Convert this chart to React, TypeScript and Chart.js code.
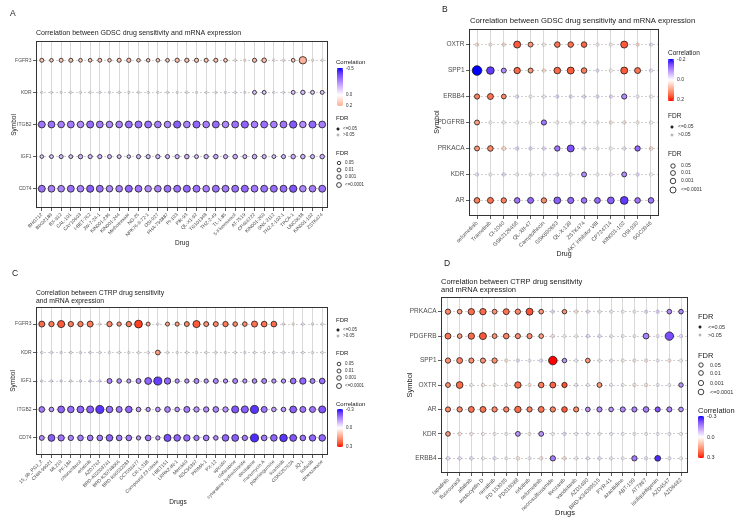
import React, { useEffect, useRef } from "react";
import { Chart, registerables } from "chart.js";
Chart.register(...registerables);

const FONT = "'Liberation Sans', Arial, Helvetica, sans-serif";

// ---------------- Panel A: GDSC ----------------
const drugsA = ["BHG712", "BIX02189", "BX-912", "CAL-101", "CAY10603", "I-BET-762", "JW-7-24-1", "KIN001-236", "KIN001-244", "Methotrexate", "NG-25", "NPK76-II-72-1", "OSI-027", "PHA-793887", "PI-103", "PIK-93", "QL-X1-92", "TG101348", "THZ-2-49", "TL-1-85", "5-Fluorouracil", "AT-7519", "CP466722", "KIN001-260", "SNX-2112", "THZ-2-102-1", "TPCA-1", "UNC0638", "KIN001-102", "ZSTK474"];
const genesA = ["FGFR3", "KDR", "ITGB2", "IGF1", "CD74"];
const corA_FGFR3 = [0.16, 0.14, 0.16, 0.16, 0.15, 0.15, 0.16, 0.14, 0.16, 0.17, 0.14, 0.14, 0.14, 0.15, 0.17, 0.17, 0.16, 0.16, 0.16, 0.15, 0.07, 0.07, 0.17, 0.18, 0.07, 0.07, 0.15, 0.2, 0.07, 0.07];
const nlfA_FGFR3 = [2.4, 1.6, 2.4, 2.4, 1.8, 1.8, 2.2, 1.6, 2.4, 2.8, 1.5, 1.5, 1.6, 1.8, 2.8, 2.8, 2.6, 2.4, 2.4, 1.8, 0.4, 0.4, 2.6, 3.6, 0.4, 0.4, 1.8, 13, 0.4, 0.4];
const corA_KDR = [-0.06, -0.06, -0.06, -0.06, -0.06, -0.06, -0.06, -0.06, -0.06, -0.06, -0.06, -0.06, -0.06, -0.06, -0.06, -0.06, -0.06, -0.06, -0.06, -0.06, -0.06, -0.06, -0.13, -0.13, -0.06, -0.06, -0.13, -0.15, -0.13, -0.13];
const nlfA_KDR = [0.3, 0.3, 0.3, 0.3, 0.3, 0.3, 0.3, 0.3, 0.3, 0.3, 0.3, 0.3, 0.3, 0.3, 0.3, 0.3, 0.3, 0.3, 0.3, 0.3, 0.3, 0.3, 2.2, 2.2, 0.3, 0.3, 2.2, 3, 2.2, 2.2];
const corA_ITGB2 = [-0.3, -0.31, -0.28, -0.29, -0.25, -0.32, -0.29, -0.26, -0.28, -0.31, -0.31, -0.31, -0.28, -0.26, -0.35, -0.27, -0.33, -0.28, -0.32, -0.26, -0.31, -0.34, -0.28, -0.31, -0.28, -0.3, -0.36, -0.25, -0.33, -0.28];
const nlfA_ITGB2 = [11, 11, 10, 11, 9.5, 11.5, 10.5, 9.5, 10, 11, 11, 11, 10, 9.5, 12, 10, 11.5, 10, 11, 9.5, 11, 12, 10, 11, 10, 11, 12.5, 9.5, 11.5, 10.5];
const corA_IGF1 = [-0.12, -0.13, -0.15, -0.13, -0.17, -0.15, -0.16, -0.14, -0.13, -0.12, -0.15, -0.15, -0.16, -0.16, -0.16, -0.17, -0.14, -0.16, -0.18, -0.16, -0.17, -0.15, -0.17, -0.16, -0.13, -0.16, -0.18, -0.17, -0.16, -0.18];
const nlfA_IGF1 = [1.7, 2, 2.4, 2, 3.2, 2.6, 2.8, 2.4, 2, 1.5, 2.6, 2.6, 2.8, 2.6, 2.8, 3.4, 2.2, 3, 3.4, 2.6, 3.4, 2.4, 3.4, 2.6, 2, 2.6, 3.4, 3.4, 2.6, 3.4];
const corA_CD74 = [-0.31, -0.28, -0.27, -0.31, -0.27, -0.35, -0.31, -0.26, -0.28, -0.33, -0.3, -0.25, -0.28, -0.31, -0.31, -0.33, -0.31, -0.28, -0.31, -0.29, -0.31, -0.33, -0.29, -0.31, -0.32, -0.32, -0.37, -0.26, -0.28, -0.31];
const nlfA_CD74 = [11, 10.5, 10, 11, 10, 12, 11, 9.5, 10, 11.5, 10.5, 9.5, 10, 11, 11, 11.5, 11, 10, 11, 10.5, 11, 11.5, 10.5, 11, 11, 11, 12.5, 9.5, 10, 11];
const breaksA = [-0.5, 0, 0.2];

// ---------------- Panel B: GDSC ----------------
const drugsB = ["selumetinib", "Trametinib", "CI-1040", "GSK2126458", "QL-XII-47", "Camptothecin", "GSK690693", "QL-X-138", "ZSTK474", "AKT inhibitor VIII", "CP724714", "KIN001-102", "OSI-930", "SGC0946"];
const genesB = ["OXTR", "SPP1", "ERBB4", "PDGFRB", "PRKACA", "KDR", "AR"];
const corB_OXTR = [0.07, 0.05, 0.07, 0.16, 0.11, 0.02, 0.14, 0.14, 0.15, 0.03, 0.03, 0.16, 0.07, -0.06];
const nlfB_OXTR = [0.4, 0.36, 0.4, 6.4, 2.1, 0.36, 3.2, 3.2, 3.2, 0.36, 0.36, 6.4, 0.4, 0.36];
const corB_SPP1 = [-0.2, -0.17, -0.1, 0.15, 0.11, 0.07, 0.15, 0.16, 0.13, -0.05, 0.01, 0.16, 0.14, -0.05];
const nlfB_SPP1 = [15.5, 8.2, 2.1, 4.9, 2.1, 0.4, 5.4, 6.4, 3.2, 0.36, 0.36, 6.4, 4, 0.36];
const corB_ERBB4 = [0.13, 0.14, 0.12, -0.06, -0.02, -0.02, -0.07, -0.07, -0.06, -0.06, -0.07, -0.1, -0.02, -0.02];
const nlfB_ERBB4 = [2.5, 4, 1.8, 0.4, 0.36, 0.36, 0.4, 0.4, 0.4, 0.4, 0.4, 2.5, 0.36, 0.36];
const corB_PDGFRB = [0.1, 0.01, 0.01, 0.01, 0.01, -0.12, 0.02, -0.02, 0.02, 0.02, 0.05, 0.05, 0.02, 0.01];
const nlfB_PDGFRB = [2.1, 0.36, 0.36, 0.36, 0.36, 2.5, 0.36, 0.36, 0.36, 0.36, 0.36, 0.36, 0.36, 0.36];
const corB_PRKACA = [0.11, 0.12, 0.08, -0.07, -0.07, -0.06, -0.12, -0.15, -0.06, 0.02, 0.02, -0.04, -0.13, 0.08];
const nlfB_PRKACA = [2.1, 3.2, 1.1, 0.5, 0.5, 0.4, 2.8, 6.4, 0.4, 0.36, 0.36, 0.36, 2.8, 0.6];
const corB_KDR = [-0.05, -0.02, -0.06, -0.02, -0.02, -0.01, -0.02, -0.01, -0.1, -0.01, -0.02, -0.1, -0.06, -0.01];
const nlfB_KDR = [0.4, 0.36, 0.5, 0.36, 0.36, 0.36, 0.36, 0.36, 2.1, 0.36, 0.36, 2.1, 0.5, 0.36];
const corB_AR = [0.13, 0.14, 0.13, -0.12, -0.13, 0.12, -0.14, -0.13, -0.12, -0.13, -0.14, -0.17, -0.12, -0.12];
const nlfB_AR = [3.2, 4, 2.8, 3.2, 4, 2.8, 5.9, 4.4, 3.2, 3.6, 5.9, 8.8, 3.2, 3.2];
const breaksB = [-0.2, 0, 0.2];

// ---------------- Panel C: CTRP ----------------
const drugsC = ["15_9b_PGJ_2", "CHIR-99021", "ML210", "PF-184", "chlorambucil", "erlotinib", "AZD7762", "BRD-A02303741", "BRD-K30748066", "BRD-K66532283", "CCT036477", "CR-1-31B", "Compound 23 citrate", "I-BET151", "LRRK2-IN-1", "Merck60", "NSC95397", "PRIMA-1", "PX-12", "apicidin", "clofarabine", "cytarabine hydrochloride", "decitabine", "manumycin A", "piperlongumine", "tivantinib", "GSK525762A", "JQ-1", "linifanib", "dexrazoxane"];
const genesC = ["FGFR3", "KDR", "IGF1", "ITGB2", "CD74"];
const corC_FGFR3 = [0.22, 0.2, 0.24, 0.2, 0.2, 0.2, 0.07, 0.18, 0.16, 0.2, 0.27, 0.14, -0.05, 0.14, 0.15, 0.18, 0.24, 0.17, 0.18, 0.2, 0.18, 0.18, 0.21, 0.21, 0.22, 0.07, 0.05, -0.05, -0.05, 0.05];
const nlfC_FGFR3 = [7, 5, 11, 5, 5, 7, 0.3, 5, 2.5, 5, 14, 2, 0.3, 2, 2.3, 4, 11, 4, 4, 5, 3.2, 3.2, 7, 6, 6, 0.3, 0.3, 0.3, 0.3, 0.3];
const corC_KDR = [-0.06, -0.04, -0.06, -0.06, -0.06, -0.07, -0.03, -0.03, -0.03, -0.03, -0.03, -0.03, 0.15, -0.03, -0.03, -0.03, -0.03, -0.03, 0.05, -0.03, -0.03, -0.04, -0.03, -0.03, -0.03, -0.03, -0.03, -0.04, 0.04, -0.03];
const nlfC_KDR = [0.3, 0.3, 0.3, 0.3, 0.3, 0.3, 0.3, 0.3, 0.3, 0.3, 0.3, 0.3, 3.6, 0.3, 0.3, 0.3, 0.3, 0.3, 0.3, 0.3, 0.3, 0.3, 0.3, 0.3, 0.3, 0.3, 0.3, 0.3, 0.3, 0.3];
const corC_IGF1 = [-0.07, -0.07, -0.07, -0.07, -0.07, -0.08, -0.08, -0.16, -0.15, -0.13, -0.16, -0.2, -0.25, -0.2, -0.14, -0.14, -0.16, -0.14, -0.16, -0.14, -0.16, -0.14, -0.15, -0.16, -0.14, -0.14, -0.19, -0.2, -0.17, -0.19];
const nlfC_IGF1 = [0.3, 0.3, 0.3, 0.3, 0.3, 0.3, 0.3, 4, 3.2, 2.2, 4, 10, 15, 8.3, 2.5, 2.5, 4, 2.5, 4, 2.5, 4, 2.5, 3.2, 4, 2.5, 2.5, 6, 8.3, 4, 6];
const corC_ITGB2 = [-0.17, -0.14, -0.2, -0.19, -0.2, -0.21, -0.26, -0.19, -0.18, -0.2, -0.13, -0.13, -0.14, -0.16, -0.14, -0.17, -0.14, -0.15, -0.16, -0.14, -0.22, -0.21, -0.26, -0.18, -0.13, -0.14, -0.21, -0.18, -0.18, -0.22];
const nlfC_ITGB2 = [6, 3.2, 10, 9, 10, 11, 15, 9, 7, 9, 3.2, 2.5, 3.2, 6, 3.2, 7, 5, 5, 6, 5, 11, 11, 15, 7, 3.2, 3.2, 10, 7, 7, 11];
const corC_CD74 = [-0.15, -0.21, -0.18, -0.16, -0.17, -0.17, -0.17, -0.2, -0.17, -0.17, -0.14, -0.17, -0.13, -0.23, -0.2, -0.19, -0.17, -0.17, -0.15, -0.2, -0.21, -0.17, -0.27, -0.17, -0.2, -0.26, -0.22, -0.18, -0.2, -0.2];
const nlfC_CD74 = [4, 10, 8, 5, 6, 6, 6, 9, 6, 6, 2.5, 6, 2.5, 11, 9, 8.3, 5, 6, 3.2, 9, 10, 5, 15, 6, 9, 13, 10, 6, 8.3, 9];
const breaksC = [-0.3, 0, 0.3];

// ---------------- Panel D: CTRP ----------------
const drugsD = ["lapatinib", "fluorouracil", "afatinib", "austocystin D", "neratinib", "PD 153035", "PD318088", "erlotinib", "selumetinib", "necrosulfonamide", "tivozanib", "vandetanib", "AZD1480", "BRD-K34099515", "PYR-41", "azacitidine", "ABT-199", "AT7867", "isoliquiritigenin", "AZD4547", "AZD6482"];
const genesD = ["PRKACA", "PDGFRB", "SPP1", "OXTR", "AR", "KDR", "ERBB4"];
const corD_PRKACA = [0.18, 0.15, 0.22, 0.22, 0.17, 0.21, 0.18, 0.25, 0.16, -0.09, 0.17, 0.08, -0.08, -0.03, -0.03, -0.03, -0.03, -0.09, -0.11, -0.15, -0.16];
const nlfD_PRKACA = [3.2, 1.8, 6.6, 6.6, 2.2, 5, 3.2, 9, 1.8, 0.2, 1.5, 0.3, 0.15, 0.1, 0.1, 0.1, 0.1, 0.2, 0.3, 1.8, 1.8];
const corD_PDGFRB = [0.21, 0.15, 0.22, 0.24, 0.17, 0.19, 0.17, 0.17, 0.15, 0.08, 0.02, 0.02, -0.1, -0.08, -0.03, -0.04, -0.03, -0.16, -0.03, -0.23, -0.08];
const nlfD_PDGFRB = [5, 1.8, 6.6, 9, 2.2, 4, 2.8, 2.8, 1.8, 0.3, 0.1, 0.1, 0.3, 0.2, 0.1, 0.1, 0.1, 4.5, 0.1, 16, 0.2];
const corD_SPP1 = [0.17, 0.19, 0.17, 0.17, 0.17, 0.08, -0.08, -0.03, -0.09, 0.3, -0.14, -0.03, 0.16, -0.03, -0.03, 0.06, 0.07, 0.07, -0.03, 0.07, -0.03];
const nlfD_SPP1 = [3.2, 5, 2.8, 2.8, 3.2, 0.3, 0.2, 0.1, 0.3, 17, 1.5, 0.1, 1.8, 0.1, 0.1, 0.2, 0.2, 0.3, 0.1, 0.2, 0.1];
const corD_OXTR = [0.17, 0.22, 0.03, 0.07, 0.03, 0.03, 0.22, 0.08, 0.2, 0.23, 0.25, -0.06, -0.03, 0.16, -0.03, -0.03, 0.08, 0.08, -0.03, -0.03, -0.14];
const nlfD_OXTR = [2.2, 8, 0.1, 0.2, 0.1, 0.1, 6.6, 0.2, 4, 5, 3.2, 0.15, 0.1, 2.2, 0.1, 0.1, 0.3, 0.3, 0.1, 0.1, 1.5];
const corD_AR = [0.18, 0.18, 0.21, 0.21, 0.18, 0.19, 0.22, 0.19, 0.21, 0.19, 0.24, 0.18, -0.14, -0.15, -0.14, -0.15, -0.16, -0.17, -0.22, -0.16, -0.14];
const nlfD_AR = [2.8, 3.2, 5, 5, 3.2, 3.2, 6.6, 3.2, 5, 3.2, 4, 2.8, 1.8, 2.8, 1.8, 2.8, 2.8, 4, 2.8, 2.8, 1.8];
const corD_KDR = [0.16, 0.07, 0.04, 0.03, 0.03, 0.03, -0.14, 0.05, -0.14, 0.02, -0.09, -0.03, -0.03, -0.03, -0.03, -0.03, -0.03, -0.03, -0.03, -0.03, -0.04];
const nlfD_KDR = [1.8, 0.3, 0.15, 0.1, 0.1, 0.1, 2.2, 0.15, 2.2, 0.1, 0.3, 0.1, 0.1, 0.1, 0.1, 0.1, 0.1, 0.1, 0.1, 0.1, 0.1];
const corD_ERBB4 = [-0.08, -0.07, -0.07, -0.03, -0.07, -0.03, 0.07, -0.03, 0.08, -0.17, 0.09, -0.03, -0.07, -0.07, -0.03, -0.03, -0.17, -0.07, -0.27, -0.06, -0.03];
const nlfD_ERBB4 = [0.4, 0.3, 0.3, 0.1, 0.3, 0.1, 0.4, 0.1, 0.3, 3.2, 0.4, 0.1, 0.2, 0.3, 0.1, 0.1, 3.2, 0.3, 4.5, 0.2, 0.1];
const breaksD = [-0.3, 0, 0.3];

const sizeBreaks = [1.3, 2, 3, 4];
const sizeLabels = ["0.05", "0.01", "0.001", "<=0.0001"];

// ---------------- colour (Lab interpolation, like ggplot gradient2) ----------------
function toLin(c: number) { c /= 255; return c <= 0.04045 ? c / 12.92 : Math.pow((c + 0.055) / 1.055, 2.4); }
function toSrgb(c: number) { const v = c <= 0.0031308 ? 12.92 * c : 1.055 * Math.pow(c, 1 / 2.4) - 0.055; return Math.round(Math.max(0, Math.min(1, v)) * 255); }
function rgb2lab(rgb: number[]) {
  const R = toLin(rgb[0]), G = toLin(rgb[1]), B = toLin(rgb[2]);
  const X = (0.4124564 * R + 0.3575761 * G + 0.1804375 * B) / 0.95047;
  const Y = 0.2126729 * R + 0.7151522 * G + 0.072175 * B;
  const Z = (0.0193339 * R + 0.119192 * G + 0.9503041 * B) / 1.08883;
  const f = (t: number) => (t > 0.008856 ? Math.cbrt(t) : 7.787 * t + 16 / 116);
  const fx = f(X), fy = f(Y), fz = f(Z);
  return [116 * fy - 16, 500 * (fx - fy), 200 * (fy - fz)];
}
function lab2rgb(lab: number[]) {
  const fy = (lab[0] + 16) / 116, fx = fy + lab[1] / 500, fz = fy - lab[2] / 200;
  const inv = (t: number) => (t * t * t > 0.008856 ? t * t * t : (t - 16 / 116) / 7.787);
  const X = inv(fx) * 0.95047, Y = inv(fy), Z = inv(fz) * 1.08883;
  const R = 3.2404542 * X - 1.5371385 * Y - 0.4985314 * Z;
  const G = -0.969266 * X + 1.8760108 * Y + 0.041556 * Z;
  const B = 0.0556434 * X - 0.2040259 * Y + 1.0572252 * Z;
  return [toSrgb(R), toSrgb(G), toSrgb(B)];
}
const LAB_W = rgb2lab([255, 255, 255]);
const LAB_BLUE = rgb2lab([0, 0, 255]);
const LAB_RED = rgb2lab([255, 0, 0]);
function corColor(c: number, m: number, alpha: number) {
  const t = Math.min(1, Math.abs(c) / m);
  const end = c < 0 ? LAB_BLUE : LAB_RED;
  const lab = LAB_W.map((w, i) => w + (end[i] - w) * t);
  const [r, g, b] = lab2rgb(lab);
  return `rgba(${r},${g},${b},${alpha})`;
}

// ---------------- panel specs (layout only) ----------------
type Spec = any;
const SPECS: Spec[] = [
  {
    letter: "A", letterPos: [10, 14], title: ["Correlation between GDSC drug sensitivity and mRNA expression"], titlePos: [36, 33], titleSize: 7,
    xTitle: "Drug", xTitlePos: [182, 243], yTitlePos: [14, 125], axisTitleSize: 6.5,
    left: 0, top: 0, width: 368, height: 262, area: { l: 36, t: 41, r: 328, b: 208 },
    genes: genesA, drugs: drugsA,
    cor: [corA_FGFR3, corA_KDR, corA_ITGB2, corA_IGF1, corA_CD74],
    nlf: [nlfA_FGFR3, nlfA_KDR, nlfA_ITGB2, nlfA_IGF1, nlfA_CD74],
    corMax: 0.5, corLo: -0.52, corHi: 0.21, breaks: breaksA, rA: 0.78, rB: 0.81,
    xTick: 4.8, yTick: 5,
    legend: { x: 336, corTitleY: 62, barX: 337, barW: 6, barTop: 68, barBottom: 106, alphaTitleY: 118, alphaY: [129, 135], dotX: 338, dotLabelX: 343, sizeTitleY: 153, sizeY: [163, 170, 177, 185], circX: 339, sizeLabelX: 345, titleSize: 6, labelSize: 4.5 },
  },
  {
    letter: "B", letterPos: [442, 10], title: ["Correlation between GDSC drug sensitivity and mRNA expression"], titlePos: [470, 21], titleSize: 7.7,
    xTitle: "Drug", xTitlePos: [564, 254], yTitlePos: [437, 122], axisTitleSize: 7,
    left: 368, top: 0, width: 369, height: 262, area: { l: 469, t: 29, r: 659, b: 216 },
    genes: genesB, drugs: drugsB,
    cor: [corB_OXTR, corB_SPP1, corB_ERBB4, corB_PDGFRB, corB_PRKACA, corB_KDR, corB_AR],
    nlf: [nlfB_OXTR, nlfB_SPP1, nlfB_ERBB4, nlfB_PDGFRB, nlfB_PRKACA, nlfB_KDR, nlfB_AR],
    corMax: 0.2, corLo: -0.21, corHi: 0.21, breaks: breaksB, rA: 1.14, rB: 0.93,
    xTick: 5.5, yTick: 6.5,
    legend: { x: 668, corTitleY: 53, barX: 668, barW: 6, barTop: 59, barBottom: 101, alphaTitleY: 116, alphaY: [127, 135], dotX: 672, dotLabelX: 678, sizeTitleY: 154, sizeY: [166, 173, 181, 190], circX: 673, sizeLabelX: 681, titleSize: 6.5, labelSize: 5 },
  },
  {
    letter: "C", letterPos: [12, 274], title: ["Correlation between CTRP drug sensitivity", "and mRNA expression"], titlePos: [36, 293], titleSize: 6.8,
    xTitle: "Drugs", xTitlePos: [178, 502], yTitlePos: [13, 381], axisTitleSize: 6.5,
    left: 0, top: 262, width: 368, height: 262, area: { l: 36, t: 307, r: 328, b: 455 },
    genes: genesC, drugs: drugsC,
    cor: [corC_FGFR3, corC_KDR, corC_IGF1, corC_ITGB2, corC_CD74],
    nlf: [nlfC_FGFR3, nlfC_KDR, nlfC_IGF1, nlfC_ITGB2, nlfC_CD74],
    corMax: 0.3, corLo: -0.31, corHi: 0.31, breaks: breaksC, rA: 0.87, rB: 0.81,
    xTick: 4.8, yTick: 5,
    legend: { x: 336, alphaTitleY: 320, alphaY: [330, 336], dotX: 338, dotLabelX: 343, sizeTitleY: 353, sizeY: [364, 371, 378, 386], circX: 339, sizeLabelX: 345, corTitleY: 404, barX: 337, barW: 6, barTop: 409, barBottom: 447, titleSize: 6, labelSize: 4.5 },
  },
  {
    letter: "D", letterPos: [444, 264], title: ["Correlation between CTRP drug sensitivity", "and mRNA expression"], titlePos: [441, 282], titleSize: 7.5,
    xTitle: "Drugs", xTitlePos: [565, 513], yTitlePos: [410, 385], axisTitleSize: 7.5,
    left: 368, top: 250, width: 369, height: 274, area: { l: 441, t: 297, r: 688, b: 473 },
    genes: genesD, drugs: drugsD,
    cor: [corD_PRKACA, corD_PDGFRB, corD_SPP1, corD_OXTR, corD_AR, corD_KDR, corD_ERBB4],
    nlf: [nlfD_PRKACA, nlfD_PDGFRB, nlfD_SPP1, nlfD_OXTR, nlfD_AR, nlfD_KDR, nlfD_ERBB4],
    corMax: 0.3, corLo: -0.31, corHi: 0.31, breaks: breaksD, rA: 1.4, rB: 0.7,
    xTick: 5.5, yTick: 6.5,
    legend: { x: 698, alphaTitleY: 317, alphaY: [327, 335], dotX: 700, dotLabelX: 708, sizeTitleY: 356, sizeY: [365, 373, 383, 392], circX: 701, sizeLabelX: 710, corTitleY: 411, barX: 698, barW: 6, barTop: 416, barBottom: 458, titleSize: 7.5, labelSize: 5.5 },
  },
];

function fmt(b: number) { return b === 0 ? "0.0" : b.toFixed(1); }

function decorPlugin(s: Spec) {
  return {
    id: "decor" + s.letter,
    afterDraw(chart: any) {
      const ctx = chart.ctx as CanvasRenderingContext2D;
      const P = (x: number) => x - s.left;
      const Q = (y: number) => y - s.top;
      const a = chart.chartArea;
      ctx.save();
      // panel border
      ctx.strokeStyle = "#333";
      ctx.lineWidth = 1;
      ctx.strokeRect(Math.round(a.left) + 0.5, Math.round(a.top) + 0.5, Math.round(a.right - a.left) - 1, Math.round(a.bottom - a.top) - 1);
      const txt = (str: string, x: number, y: number, size: number, align: CanvasTextAlign = "left", color = "#1a1a1a") => {
        ctx.font = `${size}px ${FONT}`;
        ctx.fillStyle = color;
        ctx.textAlign = align;
        ctx.textBaseline = "middle";
        ctx.fillText(str, P(x), Q(y));
      };
      txt(s.letter, s.letterPos[0], s.letterPos[1], 8.5);
      s.title.forEach((line: string, i: number) => txt(line, s.titlePos[0], s.titlePos[1] + i * 8, s.titleSize));
      txt(s.xTitle, s.xTitlePos[0], s.xTitlePos[1], s.axisTitleSize, "center");
      ctx.save();
      ctx.translate(P(s.yTitlePos[0]), Q(s.yTitlePos[1]));
      ctx.rotate(-Math.PI / 2);
      ctx.font = `${s.axisTitleSize}px ${FONT}`;
      ctx.fillStyle = "#1a1a1a";
      ctx.textAlign = "center";
      ctx.textBaseline = "middle";
      ctx.fillText("Symbol", 0, 0);
      ctx.restore();

      const L = s.legend;
      // colour bar
      txt("Correlation", L.x, L.corTitleY, L.titleSize);
      const g = ctx.createLinearGradient(0, Q(L.barTop), 0, Q(L.barBottom));
      for (let i = 0; i <= 30; i++) {
        const t = i / 30;
        g.addColorStop(t, corColor(s.corLo + t * (s.corHi - s.corLo), s.corMax, 1));
      }
      ctx.fillStyle = g;
      ctx.fillRect(P(L.barX), Q(L.barTop), L.barW, L.barBottom - L.barTop);
      s.breaks.forEach((b: number) => {
        const y = L.barTop + ((b - s.corLo) / (s.corHi - s.corLo)) * (L.barBottom - L.barTop);
        ctx.strokeStyle = "#fff";
        ctx.lineWidth = 0.6;
        ctx.beginPath();
        ctx.moveTo(P(L.barX), Q(y)); ctx.lineTo(P(L.barX) + 1.3, Q(y));
        ctx.moveTo(P(L.barX + L.barW) - 1.3, Q(y)); ctx.lineTo(P(L.barX + L.barW), Q(y));
        ctx.stroke();
        txt(fmt(b), L.barX + L.barW + 3, y, L.labelSize, "left", "#333");
      });
      // significance legend
      txt("FDR", L.x, L.alphaTitleY, L.titleSize);
      [["<=0.05", 1], [">0.05", 0.25]].forEach(([lab, al]: any, i: number) => {
        ctx.beginPath();
        ctx.arc(P(L.dotX), Q(L.alphaY[i]), 1.2, 0, Math.PI * 2);
        ctx.fillStyle = `rgba(60,60,60,${al})`;
        ctx.fill();
        ctx.strokeStyle = `rgba(0,0,0,${al})`;
        ctx.lineWidth = 0.6;
        ctx.stroke();
        txt(lab, L.dotLabelX, L.alphaY[i], L.labelSize, "left", "#333");
      });
      // size legend
      txt("FDR", L.x, L.sizeTitleY, L.titleSize);
      sizeBreaks.forEach((v, i) => {
        ctx.beginPath();
        ctx.arc(P(L.circX), Q(L.sizeY[i]), s.rA + s.rB * Math.sqrt(v), 0, Math.PI * 2);
        ctx.strokeStyle = "#111";
        ctx.lineWidth = 0.8;
        ctx.stroke();
        txt(sizeLabels[i], L.sizeLabelX, L.sizeY[i], L.labelSize, "left", "#333");
      });
      ctx.restore();
    },
  };
}

function buildConfig(s: Spec): any {
  const pts: any[] = [];
  const bg: string[] = [];
  const bd: string[] = [];
  s.genes.forEach((_g: string, gi: number) => {
    s.drugs.forEach((_d: string, di: number) => {
      const c = s.cor[gi][di];
      const v = s.nlf[gi][di];
      const sig = v >= 1.3;
      pts.push({ x: di, y: gi, r: s.rA + s.rB * Math.sqrt(v) });
      bg.push(corColor(c, s.corMax, sig ? 1 : 0.45));
      bd.push(sig ? "rgba(25,25,25,1)" : "rgba(0,0,0,0.22)");
    });
  });
  const area = { l: s.area.l - s.left, t: s.area.t - s.top, r: s.area.r - s.left, b: s.area.b - s.top };
  const nX = s.drugs.length, nY = s.genes.length;
  return {
    type: "bubble",
    data: { datasets: [{ data: pts, backgroundColor: bg, borderColor: bd, borderWidth: 0.8 }] },
    options: {
      responsive: false, animation: false, devicePixelRatio: 1, events: [],
      layout: { padding: { left: 0, top: area.t, right: s.width - area.r, bottom: 0 } },
      plugins: { legend: { display: false }, tooltip: { enabled: false }, title: { display: false } },
      scales: {
        x: {
          type: "linear", position: "bottom", min: -0.6, max: nX - 0.4,
          afterBuildTicks: (sc: any) => { sc.ticks = s.drugs.map((_: string, i: number) => ({ value: i })); },
          afterFit: (sc: any) => { sc.height = s.height - area.b; },
          ticks: { autoSkip: false, minRotation: 45, maxRotation: 45, padding: 1, color: "#4d4d4d", font: { size: s.xTick, family: FONT }, callback: (v: number) => s.drugs[v] },
          grid: { color: "#d9d9d9", lineWidth: 1, tickLength: 3, tickColor: "#333", tickWidth: 0.8 },
          border: { display: false },
        },
        y: {
          type: "linear", position: "left", reverse: true, min: -0.6, max: nY - 0.4,
          afterBuildTicks: (sc: any) => { sc.ticks = s.genes.map((_: string, i: number) => ({ value: i })); },
          afterFit: (sc: any) => { sc.width = area.l; },
          ticks: { padding: 1.5, color: "#4d4d4d", font: { size: s.yTick, family: FONT }, callback: (v: number) => s.genes[v] },
          grid: { color: "#c4c4c4", lineWidth: 0.8, tickLength: 3, tickColor: "#333", tickWidth: 0.8 },
          border: { display: false, dash: [2, 2] },
        },
      },
    },
    plugins: [decorPlugin(s)],
  };
}

function Panel({ spec }: { spec: Spec }) {
  const ref = useRef<HTMLCanvasElement | null>(null);
  useEffect(() => {
    if (!ref.current) return;
    const chart = new Chart(ref.current, buildConfig(spec));
    return () => chart.destroy();
  }, [spec]);
  return (
    <canvas
      ref={ref}
      width={spec.width}
      height={spec.height}
      style={{ position: "absolute", left: spec.left, top: spec.top, width: spec.width, height: spec.height }}
    />
  );
}

export default function App() {
  return (
    <div style={{ position: "fixed", left: 0, top: 0, width: 737, height: 524, background: "#fff", overflow: "hidden" }}>
      {SPECS.map((s) => (
        <Panel key={s.letter} spec={s} />
      ))}
    </div>
  );
}
